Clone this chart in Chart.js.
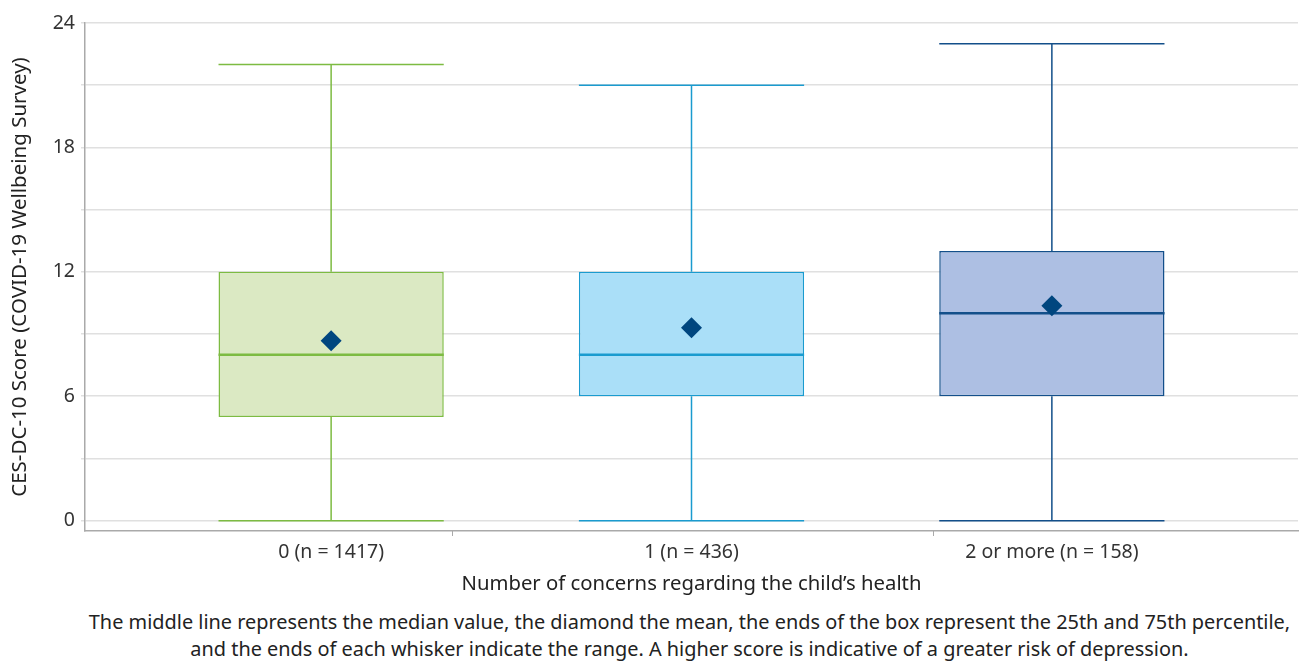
<!DOCTYPE html>
<html>
<head>
<meta charset="utf-8">
<script src="https://cdn.jsdelivr.net/npm/chart.js@4.4.0/dist/chart.umd.min.js"></script>
<style>
    body { margin: 0; background: #fff; }
    #contenedor { position: relative; width: 1311px; height: 600px; }
    #nota {
        position: absolute; top: 608px; left: 34px; width: 1311px;
        font-family: "Noto Sans", sans-serif; font-size: 19.9px;
        line-height: 27px; text-align: center; color: #222; white-space: nowrap;
    }
</style>
</head>
<body>
<div id="contenedor"><canvas id="graficoCajas"></canvas></div>
<div id="nota">The middle line represents the median value, the diamond the mean, the ends of the box represent the 25th and 75th percentile,<br>and the ends of each whisker indicate the range. A higher score is indicative of a greater risk of depression.</div>
<script>
// Datos del grafico
const categorias = ["0 (n = 1417)", "1 (n = 436)", "2 or more (n = 158)"];
const minimos = [0, 0, 0];
const cuartil1 = [5, 6, 6];
const medianas = [8, 8, 10];
const cuartil3 = [12, 12, 13];
const maximos = [22, 21, 23];
const medias = [8.67, 9.3, 10.36];
const ticksY = [0, 3, 6, 9, 12, 15, 18, 21, 24];
const etiquetasY = [0, 6, 12, 18, 24];
const separadoresX = [0.335, 1.67];

// Colores de cada grupo
const bordes = ["#7dbb42", "#1a9bcf", "#134f8a"];
const rellenos = ["#dbe9c3", "#aadff8", "#adbfe3"];
const colorMedia = "#00467f";

const anchoCaja = 0.625; // fraccion del espacio entre categorias
const mitad = anchoCaja / 2;
const fuente = "'Noto Sans', sans-serif";

// Pequenas marcas en el eje X entre grupos
const marcasSeparadoras = {
    id: "marcasSeparadoras",
    afterDraw(chart) {
        const eje = chart.scales.x;
        const ctx = chart.ctx;
        ctx.save();
        ctx.strokeStyle = "#aaa";
        ctx.lineWidth = 1;
        separadoresX.forEach(v => {
            const px = Math.round(eje.getPixelForValue(v)) + 0.5;
            ctx.beginPath();
            ctx.moveTo(px, eje.top);
            ctx.lineTo(px, eje.top + 5);
            ctx.stroke();
        });
        ctx.restore();
    }
};

document.addEventListener("DOMContentLoaded", () => {
    const grafico = document.getElementById("graficoCajas").getContext("2d");
    const datasets = [];

    // Diamante de la media (arriba de todo)
    datasets.push({
        type: "scatter",
        data: medias.map((m, i) => ({ x: i, y: m })),
        pointStyle: "rectRot",
        pointRadius: 10.5,
        backgroundColor: colorMedia,
        borderWidth: 0,
        order: 0
    });

    categorias.forEach((c, i) => {
        // Linea de la mediana
        datasets.push({
            type: "line",
            data: [{ x: i - mitad, y: medianas[i] }, { x: i + mitad, y: medianas[i] }],
            borderColor: bordes[i],
            borderWidth: 2.5,
            pointRadius: 0,
            order: 1
        });
        // Bigotes y topes
        datasets.push({
            type: "line",
            data: [
                { x: i, y: maximos[i] }, { x: i, y: cuartil3[i] }, { x: i, y: null },
                { x: i, y: cuartil1[i] }, { x: i, y: minimos[i] }, { x: i, y: null },
                { x: i - mitad, y: maximos[i] }, { x: i + mitad, y: maximos[i] }, { x: i, y: null },
                { x: i - mitad, y: minimos[i] }, { x: i + mitad, y: minimos[i] }
            ],
            borderColor: bordes[i],
            borderWidth: 1.5,
            pointRadius: 0,
            spanGaps: false,
            order: 2
        });
    });

    // Cajas del percentil 25 al 75
    datasets.push({
        type: "bar",
        data: categorias.map((c, i) => ({ x: i, y: [cuartil1[i], cuartil3[i]] })),
        backgroundColor: rellenos,
        borderColor: bordes,
        borderWidth: 1.5,
        borderSkipped: false,
        categoryPercentage: 1,
        barPercentage: anchoCaja,
        order: 3
    });

    new Chart(grafico, {
        type: "bar",
        data: { datasets },
        plugins: [marcasSeparadoras],
        options: {
            responsive: true,
            maintainAspectRatio: false,
            animation: false,
            layout: { padding: { top: 23, right: 13, left: 0, bottom: 0 } },
            plugins: {
                legend: { display: false },
                tooltip: { enabled: false }
            },
            scales: {
                x: {
                    type: "linear",
                    offset: false,
                    min: -0.683,
                    max: 2.683,
                    afterBuildTicks: (eje) => {
                        eje.ticks = categorias.map((c, i) => ({ value: i }));
                    },
                    afterFit: (eje) => { eje.height = 69; },
                    ticks: {
                        autoSkip: false,
                        maxRotation: 0,
                        padding: 5,
                        color: "#333",
                        font: { family: fuente, size: 19.5 },
                        callback: (v) => categorias[v] ?? ""
                    },
                    grid: {
                        drawOnChartArea: false,
                        offset: false,
                        tickLength: 5,
                        tickColor: "rgba(0,0,0,0)"
                    },
                    border: { color: "#aaa", width: 1.5 },
                    title: {
                        display: true,
                        text: "Number of concerns regarding the child\u2019s health",
                        color: "#222",
                        font: { family: fuente, size: 20.3 },
                        padding: { top: 0, bottom: 4 }
                    }
                },
                y: {
                    min: -0.5,
                    max: 24,
                    afterBuildTicks: (eje) => { eje.ticks = ticksY.map(v => ({ value: v })); },
                    afterFit: (eje) => { eje.width = 85; },
                    ticks: {
                        padding: 6,
                        color: "#333",
                        font: { family: fuente, size: 19.5 },
                        callback: (v) => etiquetasY.includes(v) ? v : ""
                    },
                    grid: { color: "#e0e0e0", lineWidth: 1.5, tickLength: 4 },
                    border: { color: "#aaa", width: 1.5 },
                    title: {
                        display: true,
                        text: "CES-DC-10 Score (COVID-19 Wellbeing Survey)",
                        color: "#222",
                        font: { family: fuente, size: 20.5 },
                        padding: { top: 8, bottom: 0 }
                    }
                }
            }
        }
    });
});
</script>
</body>
</html>
